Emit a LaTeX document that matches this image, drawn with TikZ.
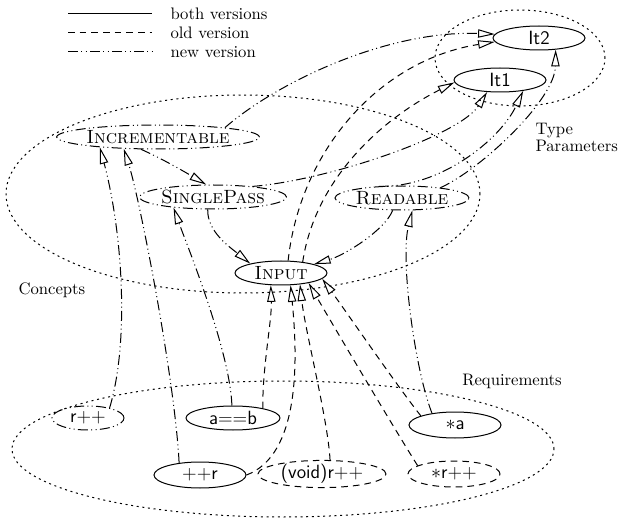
\documentclass[tikz,border=0pt]{standalone}
\usepackage{tikz}
\usetikzlibrary{arrows.meta,shapes.geometric}

\begin{document}
\begin{tikzpicture}[x=0.6pt,y=-0.6pt,line width=0.6pt,
		every node/.style={inner sep=0pt},
		oldv/.style={dash pattern=on 4pt off 3pt},
		newv/.style={dash pattern=on 6pt off 2pt on 0.6pt off 2pt on 0.6pt off 2pt},
		dotv/.style={dash pattern=on 1.2pt off 2.2pt},
		refines/.style={-{Triangle[open,length=10pt,width=5pt]}},
		elt/.style={draw,ellipse,minimum height=14.4pt,font=\fontsize{11.5}{13}\selectfont},
		cluster/.style={draw,dotv,ellipse}]
		\useasboundingbox (0,0) rectangle (631,518);
		% legend
		\coordinate (b1) at (68,14); \coordinate (b2) at (152,14);
		\coordinate (o1) at (68,33); \coordinate (o2) at (152,33);
		\coordinate (n1) at (68,52); \coordinate (n2) at (152,52);
		\draw (b1)--(b2);
		\draw[oldv] (o1)--(o2);
		\draw[newv] (n1)--(n2);
		\node[anchor=west] (bothlbl) at (170,14) {both versions};
		\node[anchor=west] (oldlbl) at (170,33) {old version};
		\node[anchor=west] (newlbl) at (170,52) {new version};
		% clusters
		\node[cluster,minimum width=102pt,minimum height=57.6pt] (typepar) at (520,58) {};
		\node[cluster,minimum width=284.4pt,minimum height=118.8pt] (concepts) at (243,194) {};
		\node[cluster,minimum width=325.2pt,minimum height=81.6pt] (reqs) at (283,449) {};
		\node[anchor=north west,align=left] (typelbl) at (535,123) {Type\\[-2pt]Parameters};
		\node[anchor=west] (conlbl) at (18,290) {Concepts};
		\node (reqlbl) at (512,381) {Requirements};
		% concepts and type parameters
		\node[elt,newv,minimum width=117.6pt] (incr) at (158,137) {\textsc{Incrementable}};
		\node[elt,newv,minimum width=84pt] (single) at (213,197) {\textsc{SinglePass}};
		\node[elt,newv,minimum width=80.4pt] (readable) at (402,198) {\textsc{Readable}};
		\node[elt,minimum width=55.2pt] (input) at (281,273) {\textsc{Input}};
		\node[elt,minimum width=55.2pt] (it1) at (500,80) {\sffamily It1};
		\node[elt,minimum width=55.2pt] (it2) at (539,38) {\sffamily It2};
		% requirements
		\node[elt,newv,minimum width=43.2pt] (rpp) at (88,418) {\sffamily r++};
		\node[elt,minimum width=56.4pt] (aeqb) at (233,418) {\sffamily a==b};
		\node[elt,minimum width=55.2pt,minimum height=15.6pt] (deref) at (455,425) {\sffamily $\ast$a};
		\node[elt,minimum width=55.2pt,minimum height=15.6pt] (pprr) at (200,475) {\sffamily ++r};
		\node[elt,oldv,minimum width=76.8pt,minimum height=15.6pt] (voidrpp) at (322,474) {\sffamily (void)r++};
		\node[elt,oldv,minimum width=55.2pt,minimum height=15.6pt] (derefpp) at (454,474) {\sffamily $\ast$r++};
		% refinements
		\draw[refines,newv] (incr.8) .. controls (280,80) and (390,30) .. (it2.175);
		\draw[refines,newv] (incr.216) .. controls (165,160) and (190,175) .. (single.119);
		\draw[refines,newv] (single.15) .. controls (330,180) and (460,135) .. (it1.223);
		\draw[refines,newv] (single.247) .. controls (207,232) and (231,248) .. (input.163);
		\draw[refines,newv] (readable.233) .. controls (385,230) and (345,255) .. (input.15);
		\draw[refines,newv] (readable.153) .. controls (440,188) and (500,140) .. (it1.335);
		\draw[refines,newv] (readable.15) .. controls (480,170) and (555,100) .. (it2.325);
		\draw[refines,oldv] (input.60) .. controls (300,150) and (380,60) .. (it2.185);
		\draw[refines,oldv] (input.27) .. controls (315,180) and (380,120) .. (it1.183);
		\draw[refines,newv] (rpp.25) .. controls (130,340) and (122,230) .. (incr.190);
		\draw[refines,newv] (pprr.150) .. controls (175,380) and (140,200) .. (incr.199);
		\draw[refines,newv] (aeqb.95) .. controls (230,350) and (185,240) .. (single.195);
		\draw[refines,oldv] (aeqb.18) .. controls (262,370) and (272,320) .. (input.230);
		\draw[refines,oldv] (pprr.east) .. controls (300,455) and (298,360) .. (input.308);
		\draw[refines,oldv] (voidrpp.60) .. controls (328,420) and (305,330) .. (input.329);
		\draw[refines,oldv] (derefpp.167) .. controls (395,430) and (330,320) .. (input.340);
		\draw[refines,oldv] (deref.165) .. controls (400,390) and (345,310) .. (input.352);
		\draw[refines,newv] (deref.153) .. controls (415,370) and (400,260) .. (readable.310);
	\end{tikzpicture}
\end{document}
